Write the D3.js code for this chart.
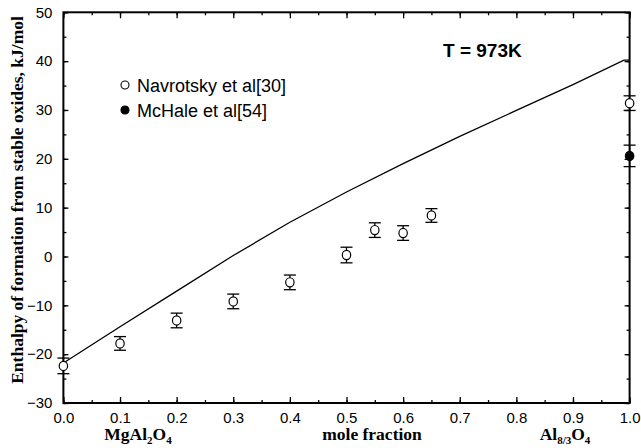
<!DOCTYPE html>
<html><head><meta charset="utf-8">
<script src="https://cdn.jsdelivr.net/npm/d3@7"></script>
<style>body{margin:0;background:#fff}svg{display:block}</style>
</head><body>
<svg id="c" width="641" height="448"></svg>
<script>
// Data
const modelX = [0.0, 0.1, 0.2, 0.3, 0.4, 0.5, 0.6, 0.7, 0.8, 0.9, 0.99, 1.0];
const modelY = [-21.8, -14.4, -7.1, 0.2, 7.0, 13.2, 19.0, 24.6, 29.9, 35.2, 40.2, 40.2];
const navX = [0.0, 0.1, 0.2, 0.3, 0.4, 0.5, 0.55, 0.6, 0.65, 1.0];
const navY = [-22.4, -17.8, -13.1, -9.2, -5.3, 0.3, 5.4, 4.8, 8.4, 31.4];
const navErr = [1.6, 1.4, 1.5, 1.5, 1.5, 1.6, 1.5, 1.5, 1.4, 1.5];
const mchX = [1.0];
const mchY = [20.6];
const mchErr = [2.2];
const xTicks = [0.0, 0.1, 0.2, 0.3, 0.4, 0.5, 0.6, 0.7, 0.8, 0.9, 1.0];
const yTicks = [-30, -20, -10, 0, 10, 20, 30, 40, 50];
const legendLabels = ["Navrotsky et al[30]", "McHale et al[54]"];

const svg = d3.select("#c");
const L = 63.4, R = 629.6, T = 12.3, B = 403;
const x = d3.scaleLinear().domain([0, 1]).range([L, R]);
const y = d3.scaleLinear().domain([-30, 50]).range([B, T]);

const g = svg.append("g");
const sans = "Liberation Sans, Arial, sans-serif";
const serif = "Liberation Serif, Times New Roman, serif";

// Axes (inward ticks)
const xMinor = d3.range(0, 1.0001, 0.05);
const yMinor = d3.range(-30, 50.001, 5);
function styleAxis(sel) {
  sel.select(".domain").remove();
  sel.selectAll("line").attr("stroke", "#000").attr("stroke-width", 1.3);
  sel.selectAll("text").attr("font-family", sans).attr("font-size", 15).attr("fill", "#000");
}
// bottom
g.append("g").attr("transform", `translate(0,${B})`)
  .call(d3.axisBottom(x).tickValues(xTicks).tickFormat(d3.format(".1f")).tickSizeInner(-6).tickSizeOuter(0).tickPadding(9))
  .call(styleAxis);
g.append("g").attr("transform", `translate(0,${B})`)
  .call(d3.axisBottom(x).tickValues(xMinor).tickFormat("").tickSizeInner(-3).tickSizeOuter(0))
  .call(styleAxis);
// top
g.append("g").attr("transform", `translate(0,${T})`)
  .call(d3.axisTop(x).tickValues(xTicks).tickFormat("").tickSizeInner(-6).tickSizeOuter(0)).call(styleAxis);
g.append("g").attr("transform", `translate(0,${T})`)
  .call(d3.axisTop(x).tickValues(xMinor).tickFormat("").tickSizeInner(-3).tickSizeOuter(0)).call(styleAxis);
// left
g.append("g").attr("transform", `translate(${L},0)`)
  .call(d3.axisLeft(y).tickValues(yTicks).tickFormat(d3.format("d")).tickSizeInner(-5).tickSizeOuter(0).tickPadding(11)).call(styleAxis);
g.append("g").attr("transform", `translate(${L},0)`)
  .call(d3.axisLeft(y).tickValues(yMinor).tickFormat("").tickSizeInner(-3).tickSizeOuter(0)).call(styleAxis);
// right
g.append("g").attr("transform", `translate(${R},0)`)
  .call(d3.axisRight(y).tickValues(yTicks).tickFormat("").tickSizeInner(-5).tickSizeOuter(0)).call(styleAxis);
g.append("g").attr("transform", `translate(${R},0)`)
  .call(d3.axisRight(y).tickValues(yMinor).tickFormat("").tickSizeInner(-3).tickSizeOuter(0)).call(styleAxis);

// frame
g.append("rect").attr("x", L).attr("y", T).attr("width", R - L).attr("height", B - T)
  .attr("fill", "none").attr("stroke", "#000").attr("stroke-width", 2);

// model line
const line = d3.line().x((d, i) => x(modelX[i])).y((d, i) => y(modelY[i]));
g.append("path").datum(modelY).attr("d", line).attr("fill", "none").attr("stroke", "#000").attr("stroke-width", 1.3);

// error bars + points
function points(xs, ys, es, filled) {
  const cap = 6;
  xs.forEach((xv, i) => {
    const cx = x(xv), cy = y(ys[i]), top = y(ys[i] + es[i]), bot = y(ys[i] - es[i]);
    const eg = g.append("g").attr("stroke", "#000").attr("stroke-width", 1.3);
    eg.append("line").attr("x1", cx).attr("x2", cx).attr("y1", top).attr("y2", bot);
    eg.append("line").attr("x1", cx - cap).attr("x2", cx + cap).attr("y1", top).attr("y2", top);
    eg.append("line").attr("x1", cx - cap).attr("x2", cx + cap).attr("y1", bot).attr("y2", bot);
    g.append("ellipse").attr("cx", cx).attr("cy", cy).attr("rx", 4.2).attr("ry", 4.6)
      .attr("fill", filled ? "#000" : "#fff").attr("stroke", "#000").attr("stroke-width", 1.2);
  });
}
points(navX, navY, navErr, false);
points(mchX, mchY, mchErr, true);

// legend
const lg = g.append("g");
[0, 1].forEach(i => {
  const ly = 85 + i * 25;
  lg.append("circle").attr("cx", 125).attr("cy", ly).attr("r", 4)
    .attr("fill", i ? "#000" : "#fff").attr("stroke", "#000").attr("stroke-width", 1.1);
  lg.append("text").attr("x", 137).attr("y", ly + 6.5).text(legendLabels[i])
    .attr("font-family", sans).attr("font-size", 18).attr("fill", "#000");
});

// T label
g.append("text").attr("x", 443).attr("y", 57).text("T = 973K")
  .attr("font-family", sans).attr("font-size", 19).attr("font-weight", "bold");

// axis titles
const ft = (sel) => sel.attr("font-family", serif).attr("font-weight", "bold").attr("font-size", 17.5).attr("fill", "#000");
g.append("text").attr("transform", "translate(23,200) rotate(-90)").attr("text-anchor", "middle")
  .text("Enthalpy of formation from stable oxides, kJ/mol").call(ft);
g.append("text").attr("x", 372).attr("y", 440).attr("text-anchor", "middle").text("mole fraction").call(ft);
const t1 = g.append("text").attr("x", 138).attr("y", 440).attr("text-anchor", "middle").call(ft);
t1.append("tspan").text("MgAl");
t1.append("tspan").text("2").attr("font-size", 11).attr("dy", 4);
t1.append("tspan").text("O").attr("dy", -4);
t1.append("tspan").text("4").attr("font-size", 11).attr("dy", 4);
const t2 = g.append("text").attr("x", 565).attr("y", 440).attr("text-anchor", "middle").call(ft);
t2.append("tspan").text("Al");
t2.append("tspan").text("8/3").attr("font-size", 11).attr("dy", 4);
t2.append("tspan").text("O").attr("dy", -4);
t2.append("tspan").text("4").attr("font-size", 11).attr("dy", 4);
</script>
</body></html>
